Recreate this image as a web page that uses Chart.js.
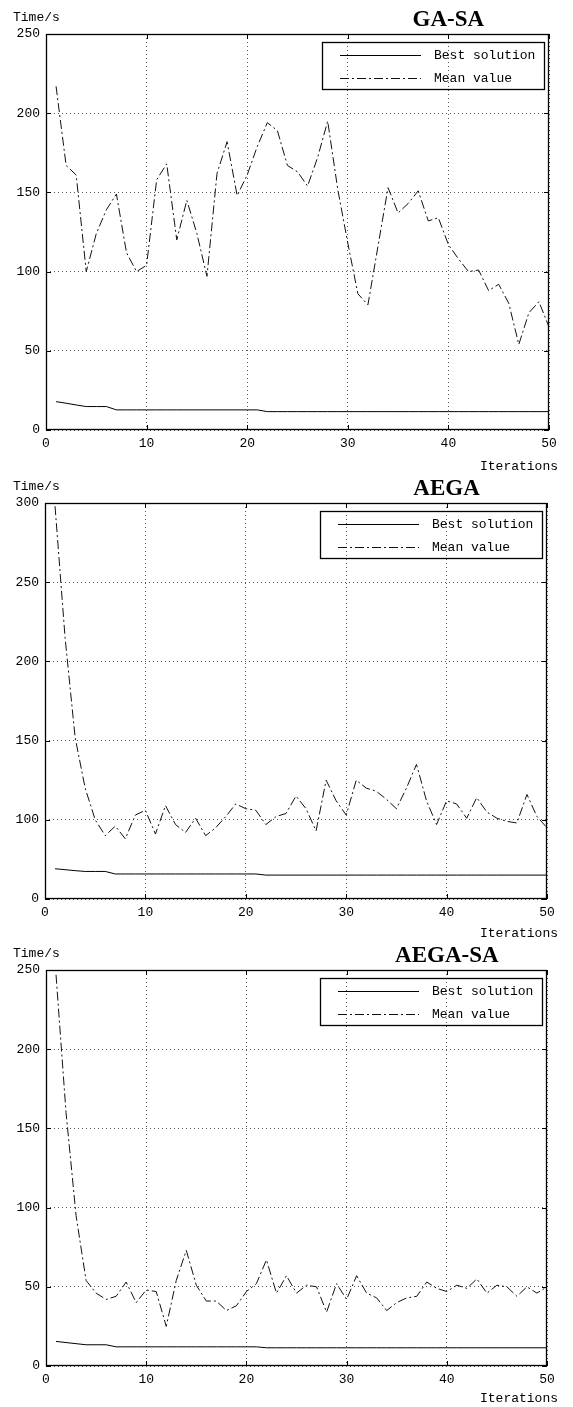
<!DOCTYPE html>
<html lang="en">
<head>
  <meta charset="UTF-8" />
  <title>Convergence curves</title>
  <script src="https://cdn.jsdelivr.net/npm/chart.js"></script>
  <style>
    body { margin: 0; background: #fff; }
    .wrap { position: relative; width: 573px; height: 1407px; }
    canvas { position: absolute; left: 0; }
  </style>
</head>
<body>
<div class="wrap">
  <canvas id="c1" width="573" height="472" style="top:0"></canvas>
  <canvas id="c2" width="573" height="468" style="top:472px"></canvas>
  <canvas id="c3" width="573" height="467" style="top:940px"></canvas>
</div>
<script>
  // iterations on the x axis
  const iterations = [1,2,3,4,5,6,7,8,9,10,11,12,13,14,15,16,17,18,19,20,
    21,22,23,24,25,26,27,28,29,30,31,32,33,34,35,36,37,38,39,40,
    41,42,43,44,45,46,47,48,49,50];
  const xTicks = [0, 10, 20, 30, 40, 50];

  // GA-SA
  const gasaBest = [17.9,16.9,15.8,14.8,14.8,14.8,12.7,12.7,12.7,12.7,12.7,12.7,12.7,12.7,12.7,12.7,12.7,12.7,12.7,12.7,
    12.7,11.6,11.6,11.6,11.6,11.6,11.6,11.6,11.6,11.6,11.6,11.6,11.6,11.6,11.6,11.6,11.6,11.6,11.6,11.6,
    11.6,11.6,11.6,11.6,11.6,11.6,11.6,11.6,11.6,11.6];
  const gasaMean = [217,167,161,100,124,139,149,112,100,104,158,168,120,145,124,97,162,182,148,161,
    179,194,189,167,163,154,172,195,152,118,86,79,116,153,137,143,151,132,134,117,
    108,100,101,88,92,80,54,74,81,65];
  const gasaYTicks = [0, 50, 100, 150, 200, 250];

  // AEGA (its lowest gridline is labelled 0 in the figure)
  const aegaBest = [69.1,68.5,67.9,67.4,67.4,67.4,65.8,65.8,65.8,65.8,65.8,65.8,65.8,65.8,65.8,65.8,65.8,65.8,65.8,65.8,
    65.8,65.1,65.1,65.1,65.1,65.1,65.1,65.1,65.1,65.1,65.1,65.1,65.1,65.1,65.1,65.1,65.1,65.1,65.1,65.1,
    65.1,65.1,65.1,65.1,65.1,65.1,65.1,65.1,65.1,65.1];
  const aegaMean = [298,215,152,120,100,90,96,88,103,106,91,109,97,92,101,90,95,102,110,107,
    106,97,102,104,115,107,93,125,112,103,125,120,118,113,107,120,135,112,97,112,
    110,101,114,105,101,99,98,116,102,95];
  const aegaYTicks = [50, 100, 150, 200, 250, 300];
  const aegaYLabels = ['0', '100', '150', '200', '250', '300'];

  // AEGA-SA
  const aegasaBest = [15.5,14.8,14.1,13.4,13.4,13.4,12.1,12.1,12.1,12.1,12.1,12.1,12.1,12.1,12.1,12.1,12.1,12.1,12.1,12.1,
    12.1,11.5,11.5,11.5,11.5,11.5,11.5,11.5,11.5,11.5,11.5,11.5,11.5,11.5,11.5,11.5,11.5,11.5,11.5,11.5,
    11.5,11.5,11.5,11.5,11.5,11.5,11.5,11.5,11.5,11.5];
  const aegasaMean = [247,160,95,54,46,42,44,53,40,48,47,25,54,73,51,41,41,35,38,47,
    52,67,46,57,46,51,50,34,52,42,57,46,43,35,40,43,44,53,49,47,
    51,49,55,46,51,50,44,50,46,50];
  const aegasaYTicks = [0, 50, 100, 150, 200, 250];

  const seriesNames = ['Best solution', 'Mean value'];

  const MONO = '"Liberation Mono", "DejaVu Sans Mono", monospace';

  // frame, inner ticks, title, legend and axis captions
  const decorPlugin = {
    id: 'decor',
    afterDraw(chart, args, o) {
      const { ctx, chartArea: a, scales } = chart;
      ctx.save();
      ctx.setLineDash([]);
      ctx.strokeStyle = '#000';
      ctx.lineWidth = 1;
      ctx.beginPath();
      scales.x.ticks.forEach(t => {
        const px = Math.round(scales.x.getPixelForValue(t.value)) + 0.5;
        ctx.moveTo(px, a.bottom); ctx.lineTo(px, a.bottom - 5);
        ctx.moveTo(px, a.top); ctx.lineTo(px, a.top + 5);
      });
      scales.y.ticks.forEach(t => {
        const py = Math.round(scales.y.getPixelForValue(t.value)) + 0.5;
        ctx.moveTo(a.left, py); ctx.lineTo(a.left + 5, py);
        ctx.moveTo(a.right, py); ctx.lineTo(a.right - 5, py);
      });
      ctx.stroke();
      ctx.lineWidth = 1.3;
      ctx.strokeRect(Math.round(a.left) + 0.5, Math.round(a.top) + 0.5,
        Math.round(a.right - a.left) - 1, Math.round(a.bottom - a.top) - 1);

      // title
      ctx.fillStyle = '#000';
      ctx.font = 'bold 23px "Liberation Serif", "DejaVu Serif", serif';
      ctx.textAlign = 'center';
      ctx.textBaseline = 'alphabetic';
      ctx.fillText(o.title, a.left + 0.8 * (a.right - a.left), a.top - 8);

      // captions
      ctx.font = '13px ' + MONO;
      ctx.textAlign = 'left';
      ctx.fillText('Time/s', 13, a.top - 13);
      ctx.textAlign = 'right';
      ctx.fillText('Iterations', 558, a.bottom + o.iterGap);

      // legend
      const bw = 222, bh = 47;
      const bx = a.right - 5 - bw, by = a.top + 8;
      ctx.lineWidth = 1.3;
      ctx.strokeRect(Math.round(bx) + 0.5, Math.round(by) + 0.5, bw, bh);
      chart.data.datasets.forEach((ds, i) => {
        const ry = Math.round(by + 13 + i * 23) + 0.5;
        ctx.beginPath();
        ctx.lineWidth = ds.borderWidth;
        ctx.strokeStyle = ds.borderColor;
        ctx.setLineDash(ds.borderDash || []);
        ctx.moveTo(bx + 18, ry);
        ctx.lineTo(bx + 99, ry);
        ctx.stroke();
        ctx.setLineDash([]);
        ctx.textAlign = 'left';
        ctx.textBaseline = 'middle';
        ctx.fillText(ds.label, bx + 112, ry);
      });
      ctx.restore();
    }
  };

  function points(vals) {
    return iterations.map((x, i) => ({ x: x, y: vals[i] }));
  }

  function makeChart(id, title, best, mean, yTicks, yLabels, box) {
    const canvas = document.getElementById(id);
    const H = canvas.height;
    new Chart(canvas.getContext('2d'), {
      type: 'line',
      data: {
        datasets: [
          { label: seriesNames[0], data: points(best), borderColor: '#000', borderWidth: 1,
            pointRadius: 0, tension: 0, fill: false },
          { label: seriesNames[1], data: points(mean), borderColor: '#111', borderWidth: 1,
            borderDash: [9, 3, 2, 3], pointRadius: 0, tension: 0, fill: false }
        ]
      },
      options: {
        responsive: false,
        animation: false,
        layout: { padding: { top: box.top, right: 573 - box.right, left: 0, bottom: 0 } },
        plugins: {
          legend: { display: false },
          tooltip: { enabled: false },
          decor: { title: title, iterGap: box.iterGap }
        },
        scales: {
          x: {
            type: 'linear',
            min: xTicks[0], max: xTicks[xTicks.length - 1],
            afterBuildTicks(s) { s.ticks = xTicks.map(v => ({ value: v })); },
            afterFit(s) { s.height = H - box.bottom; },
            grid: { color: '#555', drawTicks: false },
            border: { display: false, dash: [1, 3] },
            ticks: { padding: 6, color: '#000', font: { family: MONO, size: 13 } }
          },
          y: {
            type: 'linear',
            min: yTicks[0], max: yTicks[yTicks.length - 1],
            afterBuildTicks(s) { s.ticks = yTicks.map(v => ({ value: v })); },
            afterFit(s) { s.width = box.left; },
            grid: { color: '#555', drawTicks: false },
            border: { display: false, dash: [1, 3] },
            ticks: {
              padding: 6, color: '#000', font: { family: MONO, size: 13 },
              callback(v) { const k = yTicks.indexOf(v); return yLabels ? yLabels[k] : String(v); }
            }
          }
        }
      },
      plugins: [decorPlugin]
    });
  }

  makeChart('c1', 'GA-SA', gasaBest, gasaMean, gasaYTicks, null,
    { top: 34, bottom: 430, left: 46, right: 549, iterGap: 40 });
  makeChart('c2', 'AEGA', aegaBest, aegaMean, aegaYTicks, aegaYLabels,
    { top: 31, bottom: 427, left: 45, right: 547, iterGap: 38 });
  makeChart('c3', 'AEGA-SA', aegasaBest, aegasaMean, aegasaYTicks, null,
    { top: 30, bottom: 426, left: 46, right: 547, iterGap: 36 });
</script>
</body>
</html>
